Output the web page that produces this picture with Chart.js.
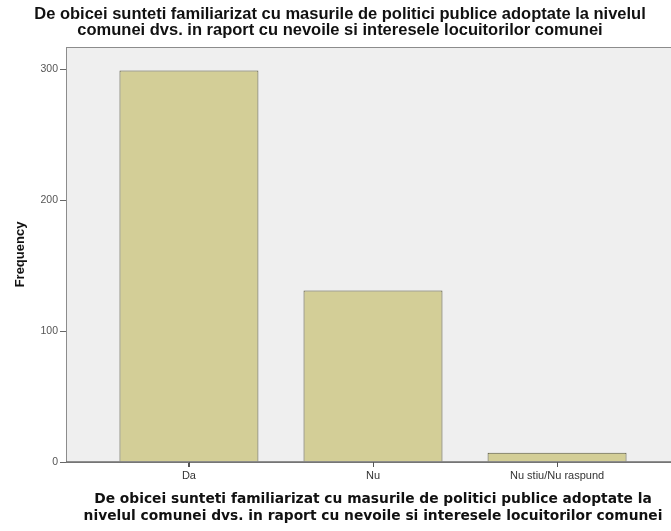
<!DOCTYPE html>
<html>
<head>
<meta charset="utf-8">
<script src="https://cdn.jsdelivr.net/npm/chart.js@4/dist/chart.umd.min.js"></script>
<style>
  html, body { margin: 0; padding: 0; background: #fff; overflow: hidden; }
  #wrap { width: 682px; height: 531px; position: relative; }
</style>
</head>
<body>
<div id="wrap"><canvas id="chart"></canvas></div>
<script>
(() => {
  // data
  const categories = ["Da", "Nu", "Nu stiu/Nu raspund"];
  const frequencies = [299, 131, 7];
  const yTicks = [0, 100, 200, 300];
  const titleLines = [
    "De obicei sunteti familiarizat cu masurile de politici publice adoptate la nivelul",
    "comunei dvs. in raport cu nevoile si interesele locuitorilor comunei",
  ];
  const xTitleLines = [
    "De obicei sunteti familiarizat cu masurile de politici publice adoptate la",
    "nivelul comunei dvs. in raport cu nevoile si interesele locuitorilor comunei",
  ];

  // grey plot panel behind the bars
  const panel = {
    id: "panel",
    beforeDatasetsDraw(chart) {
      const { ctx, chartArea: a } = chart;
      ctx.save();
      ctx.fillStyle = "#efefef";
      ctx.fillRect(a.left, a.top, a.right - a.left, a.bottom - a.top);
      ctx.strokeStyle = "#8c8c8c";
      ctx.lineWidth = 1;
      ctx.strokeRect(a.left + 0.5, a.top + 0.5, a.right - a.left, a.bottom - a.top);
      ctx.restore();
    },
    afterDatasetsDraw(chart) {
      const { ctx, chartArea: a } = chart;
      const x = chart.scales.x;
      ctx.save();
      ctx.strokeStyle = "#6e6e6e";
      ctx.lineWidth = 1.5;
      ctx.beginPath();
      ctx.moveTo(a.left, a.bottom);
      ctx.lineTo(a.right, a.bottom);
      ctx.stroke();
      // small category tick marks under the axis
      ctx.strokeStyle = "#555";
      ctx.lineWidth = 1;
      ctx.beginPath();
      categories.forEach((c, i) => {
        const px = Math.round(x.getPixelForValue(i)) + 0.5;
        ctx.moveTo(px, a.bottom);
        ctx.lineTo(px, a.bottom + 5);
      });
      ctx.stroke();
      ctx.restore();
    },
  };

  new Chart(document.getElementById("chart").getContext("2d"), {
    type: "bar",
    data: {
      datasets: [
        {
          label: "Frequency",
          data: categories.map((c, i) => ({ x: i, y: frequencies[i] })),
          backgroundColor: "#d3ce97",
          borderColor: "#55553f",
          borderWidth: 1,
          categoryPercentage: 0.755,
          barPercentage: 1,
        },
      ],
    },
    options: {
      responsive: true,
      maintainAspectRatio: false,
      animation: false,
      layout: { padding: { left: 0, right: 2, top: 0, bottom: 0 } },
      plugins: {
        legend: { display: false },
        tooltip: { enabled: false },
        title: {
          display: true,
          text: titleLines,
          color: "#111",
          font: { family: "Liberation Sans, Arial", size: 16.5, weight: "bold", lineHeight: "16.5px" },
          padding: { top: 6, bottom: 8 },
        },
      },
      scales: {
        x: {
          type: "linear",
          offset: false,
          min: -0.668,
          max: 2.668,
          afterBuildTicks: (s) => { s.ticks = categories.map((c, i) => ({ value: i })); },
          afterFit: (s) => { s.height = 69; },
          ticks: {
            callback: (v) => categories[v],
            color: "#333",
            font: { family: "Liberation Sans, Arial", size: 11 },
            padding: 2,
            maxRotation: 0,
          },
          grid: { offset: false, drawOnChartArea: false, tickLength: 5, color: "#555" },
          border: { display: false },
          title: {
            display: true,
            text: xTitleLines,
            color: "#111",
            font: { family: "DejaVu Sans", size: 13.8, weight: "bold", lineHeight: "17px" },
            padding: { top: 4, bottom: 6 },
          },
        },
        y: {
          min: 0,
          max: 317,
          afterBuildTicks: (s) => { s.ticks = yTicks.map((v) => ({ value: v })); },
          afterFit: (s) => { s.width = 66; },
          ticks: {
            color: "#555",
            font: { family: "Liberation Sans, Arial", size: 10.5 },
            padding: 2,
          },
          grid: { drawOnChartArea: false, tickLength: 6, color: "#666" },
          border: { display: false },
          title: {
            display: true,
            text: "Frequency",
            color: "#111",
            font: { family: "Liberation Sans, Arial", size: 13, weight: "bold" },
            padding: { top: 13, bottom: 8 },
          },
        },
      },
    },
    plugins: [panel],
  });
})();
</script>
</body>
</html>
